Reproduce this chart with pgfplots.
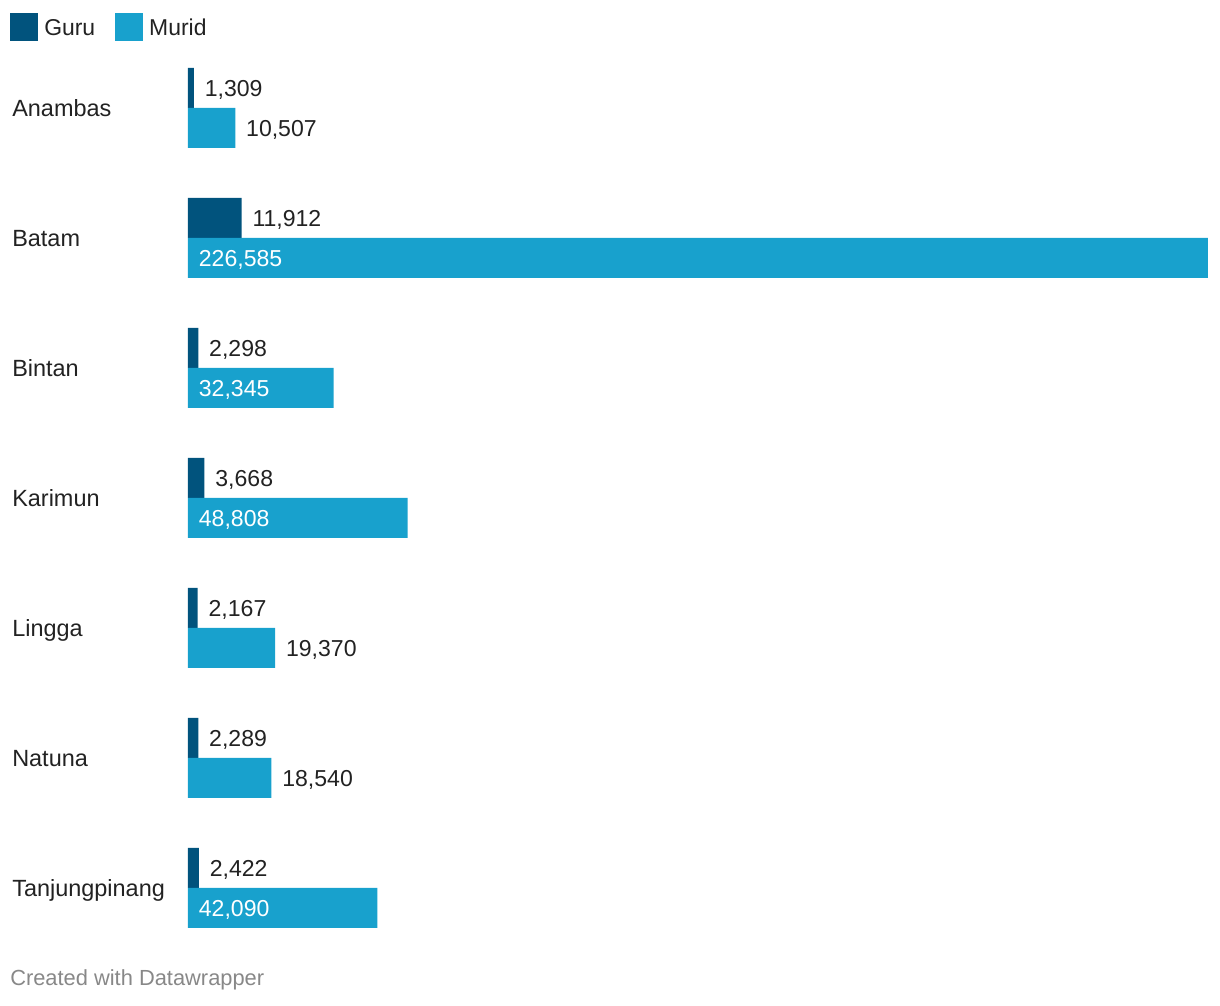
\documentclass[border=0pt]{standalone}
\usepackage{pgfplots}
\pgfplotsset{compat=1.18}
\usepackage{fontspec}
\setmainfont{Liberation Sans}
\definecolor{guru}{RGB}{1,83,125}
\definecolor{murid}{RGB}{24,161,205}
\definecolor{txt}{RGB}{34,34,34}
\definecolor{foot}{RGB}{136,136,136}
\begin{document}
\begin{tikzpicture}
\begin{axis}[
  scale only axis,
  width=915pt, height=754.5pt,
  xmin=-41762.7, xmax=229250.7,
  ymin=0, ymax=1006, y dir=reverse,
  clip=false,
  axis line style={draw=none},
  tick style={draw=none},
  major tick length=0pt, minor tick length=0pt,
  ytick pos=left,
  xtick=\empty,
  ytick={108,238,368,498,628,758,888},
  yticklabels={Anambas,Batam,Bintan,Karimun,Lingga,Natuna,Tanjungpinang},
  yticklabel style={anchor=base west, inner sep=0pt, xshift=9pt, yshift=-6.3pt, font=\fontsize{17.6}{19}\selectfont, text=txt},
  xbar, bar width=40, bar shift=0pt,
  legend columns=2,
  legend style={at={(rel axis cs:0.0082,0.9871)}, anchor=north west, draw=none, fill=none, inner sep=0pt,
    font=\fontsize{17.2}{19}\selectfont, text=txt,
    nodes={inner sep=0pt, text depth=0pt},
    /tikz/every even column/.append style={column sep=15pt}},
  legend image code/.code={\fill[#1] (0pt,-10.5pt) rectangle (21pt,10.5pt);},
]
\path (rel axis cs:0,0) rectangle (rel axis cs:1,1);
\addplot[fill=guru, draw=none,
  point meta=explicit symbolic, nodes near coords,
  nodes near coords style={anchor=base west, inner sep=0pt, xshift=8pt, yshift=-6.2pt, font=\fontsize{17.3}{19}\selectfont, text=txt}]
  coordinates {(1309,88) [1,309] (11912,218) [11,912] (2298,348) [2,298] (3668,478) [3,668]
               (2167,608) [2,167] (2289,738) [2,289] (2422,868) [2,422]};
\addlegendentry{\hspace{4.5pt}Guru}
\addplot[fill=murid, draw=none,
  point meta=explicit symbolic, nodes near coords,
  nodes near coords style={anchor=base west, inner sep=0pt, xshift=8pt, yshift=-6.2pt, font=\fontsize{17.3}{19}\selectfont, text=txt}]
  coordinates {(10507,128) [10,507] (226585,258) [] (32345,388) [] (48808,518) []
               (19370,648) [19,370] (18540,778) [18,540] (42090,908) []};
\addlegendentry{\hspace{4.5pt}Murid}
\addplot[draw=none, fill=none, forget plot, bar width=0,
  point meta=explicit symbolic, nodes near coords,
  nodes near coords style={anchor=base west, inner sep=0pt, xshift=8pt, yshift=-6.2pt, font=\fontsize{17.3}{19}\selectfont, text=white}]
  coordinates {(0,258) [226,585] (0,388) [32,345] (0,518) [48,808] (0,908) [42,090]};
\node[anchor=west, inner sep=0pt, font=\fontsize{16.4}{18}\selectfont, text=foot] at (axis cs:-39541,980) {Created with Datawrapper};
\end{axis}
\end{tikzpicture}
\end{document}
